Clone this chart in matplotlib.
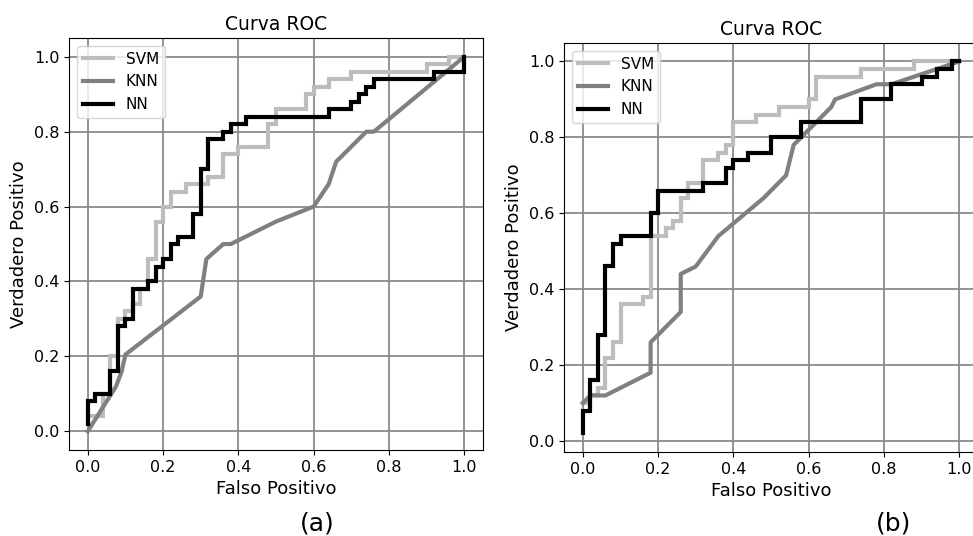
import numpy as np
import matplotlib
matplotlib.use("Agg")
import matplotlib.pyplot as plt

# ROC curve points (false positive rate, true positive rate)
# panel (a)
svm_a_fpr = [0.0, 0.04, 0.04, 0.06, 0.06, 0.08, 0.08, 0.10, 0.10, 0.12, 0.12, 0.14, 0.14, 0.16, 0.16,
             0.18, 0.18, 0.20, 0.20, 0.22, 0.22, 0.26, 0.26, 0.32, 0.32, 0.36, 0.36, 0.40, 0.40,
             0.48, 0.48, 0.50, 0.50, 0.58, 0.58, 0.60, 0.60, 0.64, 0.64, 0.70, 0.70, 0.90, 0.90,
             0.96, 0.96, 1.0]
svm_a_tpr = [0.04, 0.04, 0.10, 0.10, 0.20, 0.20, 0.30, 0.30, 0.32, 0.32, 0.34, 0.34, 0.38, 0.38, 0.46,
             0.46, 0.56, 0.56, 0.60, 0.60, 0.64, 0.64, 0.66, 0.66, 0.68, 0.68, 0.74, 0.74, 0.76,
             0.76, 0.82, 0.82, 0.86, 0.86, 0.90, 0.90, 0.92, 0.92, 0.94, 0.94, 0.96, 0.96, 0.98,
             0.98, 1.0, 1.0]
knn_a_fpr = [0.0, 0.075, 0.09, 0.10, 0.30, 0.315, 0.36, 0.38, 0.50, 0.60, 0.64, 0.66, 0.74, 0.76, 1.0]
knn_a_tpr = [0.0, 0.12, 0.16, 0.205, 0.36, 0.46, 0.50, 0.50, 0.56, 0.60, 0.66, 0.72, 0.80, 0.80, 1.0]
nn_a_fpr = [0.0, 0.0, 0.02, 0.02, 0.06, 0.06, 0.08, 0.08, 0.10, 0.10, 0.12, 0.12, 0.16, 0.16, 0.18,
            0.18, 0.20, 0.20, 0.22, 0.22, 0.24, 0.24, 0.28, 0.28, 0.30, 0.30, 0.32, 0.32, 0.36,
            0.36, 0.38, 0.38, 0.42, 0.42, 0.64, 0.64, 0.70, 0.70, 0.72, 0.72, 0.74, 0.74, 0.76,
            0.76, 0.92, 0.92, 1.0, 1.0]
nn_a_tpr = [0.02, 0.08, 0.08, 0.10, 0.10, 0.16, 0.16, 0.28, 0.28, 0.30, 0.30, 0.38, 0.38, 0.40, 0.40,
            0.44, 0.44, 0.46, 0.46, 0.50, 0.50, 0.52, 0.52, 0.58, 0.58, 0.70, 0.70, 0.78, 0.78,
            0.80, 0.80, 0.82, 0.82, 0.84, 0.84, 0.86, 0.86, 0.88, 0.88, 0.90, 0.90, 0.92, 0.92,
            0.94, 0.94, 0.96, 0.96, 1.0]

# panel (b)
svm_b_fpr = [0.0, 0.02, 0.02, 0.04, 0.04, 0.06, 0.06, 0.08, 0.08, 0.10, 0.10, 0.16, 0.16, 0.18, 0.18,
             0.22, 0.22, 0.24, 0.24, 0.26, 0.26, 0.28, 0.28, 0.32, 0.32, 0.36, 0.36, 0.38, 0.38,
             0.40, 0.40, 0.46, 0.46, 0.52, 0.52, 0.60, 0.60, 0.62, 0.62, 0.74, 0.74, 0.88, 0.88, 1.0]
svm_b_tpr = [0.10, 0.10, 0.12, 0.12, 0.14, 0.14, 0.22, 0.22, 0.26, 0.26, 0.36, 0.36, 0.38, 0.38, 0.54,
             0.54, 0.56, 0.56, 0.58, 0.58, 0.64, 0.64, 0.68, 0.68, 0.74, 0.74, 0.76, 0.76, 0.78,
             0.78, 0.84, 0.84, 0.86, 0.86, 0.88, 0.88, 0.90, 0.90, 0.96, 0.96, 0.98, 0.98, 1.0, 1.0]
knn_b_fpr = [0.0, 0.02, 0.06, 0.18, 0.18, 0.26, 0.26, 0.30, 0.36, 0.42, 0.48, 0.54, 0.56, 0.59,
             0.63, 0.66, 0.67, 0.78, 0.82, 1.0]
knn_b_tpr = [0.10, 0.12, 0.12, 0.18, 0.26, 0.34, 0.44, 0.46, 0.54, 0.59, 0.64, 0.70, 0.78, 0.81,
             0.85, 0.88, 0.90, 0.94, 0.94, 1.0]
nn_b_fpr = [0.0, 0.0, 0.02, 0.02, 0.04, 0.04, 0.06, 0.06, 0.08, 0.08, 0.10, 0.10, 0.18, 0.18, 0.20,
            0.20, 0.32, 0.32, 0.38, 0.38, 0.40, 0.40, 0.44, 0.44, 0.50, 0.50, 0.58, 0.58, 0.74,
            0.74, 0.82, 0.82, 0.90, 0.90, 0.94, 0.94, 0.98, 0.98, 1.0]
nn_b_tpr = [0.02, 0.08, 0.08, 0.16, 0.16, 0.28, 0.28, 0.46, 0.46, 0.52, 0.52, 0.54, 0.54, 0.60, 0.60,
            0.66, 0.66, 0.68, 0.68, 0.72, 0.72, 0.74, 0.74, 0.76, 0.76, 0.80, 0.80, 0.84, 0.84,
            0.90, 0.90, 0.94, 0.94, 0.96, 0.96, 0.98, 0.98, 1.0, 1.0]

ticks = [0.0, 0.2, 0.4, 0.6, 0.8, 1.0]

fig = plt.figure(figsize=(9.73, 5.36), dpi=100)
ax_a = fig.add_axes([0.0709, 0.1604, 0.4255, 0.7686])
ax_b = fig.add_axes([0.5797, 0.1567, 0.4255, 0.7633])

panels = [
    (ax_a, svm_a_fpr, svm_a_tpr, knn_a_fpr, knn_a_tpr, nn_a_fpr, nn_a_tpr),
    (ax_b, svm_b_fpr, svm_b_tpr, knn_b_fpr, knn_b_tpr, nn_b_fpr, nn_b_tpr),
]

for ax, sf, st, kf, kt, nf, nt in panels:
    ax.plot(sf, st, color="#bdbdbd", lw=3, label="SVM", solid_joinstyle="miter")
    ax.plot(kf, kt, color="#808080", lw=3, label="KNN")
    ax.plot(nf, nt, color="black", lw=3, label="NN", solid_joinstyle="miter")
    ax.set_xticks(ticks)
    ax.set_yticks(ticks)
    ax.tick_params(labelsize=11.5)
    ax.grid(True, color="#8a8a8a", lw=1.3)
    ax.set_title("Curva ROC", fontsize=13.5)
    ax.set_xlabel("Falso Positivo", fontsize=13)
    ax.set_ylabel("Verdadero Positivo", fontsize=13)
    ax.legend(loc="upper left", fontsize=11, handlelength=2.0)

fig.text(0.326, 0.01, "(a)", fontsize=18, ha="center")
fig.text(0.918, 0.01, "(b)", fontsize=18, ha="center")

fig.savefig("out.png", dpi=100)
